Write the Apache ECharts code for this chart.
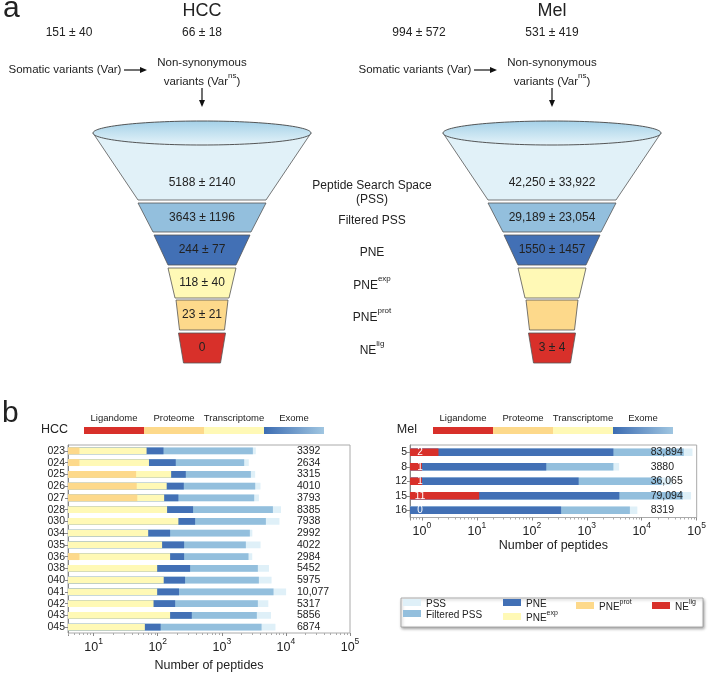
<!DOCTYPE html>
<html><head><meta charset="utf-8">
<script src="https://cdn.jsdelivr.net/npm/echarts@6/dist/echarts.min.js"></script>
<style>html,body{margin:0;padding:0;background:#fff}#c{width:709px;height:673px}</style>
</head><body><div id="c"></div>
<script>
const FONT = 'Liberation Sans, Arial, Helvetica, sans-serif';

// ---------- data ----------
const hccVar = ['151 ± 40', '66 ± 18'];
const melVar = ['994 ± 572', '531 ± 419'];
const hccFunnel = ['5188 ± 2140', '3643 ± 1196', '244 ± 77', '118 ± 40', '23 ± 21', '0'];
const melFunnel = ['42,250 ± 33,922', '29,189 ± 23,054', '1550 ± 1457', '', '', '3 ± 4'];
const stageBase = ['Peptide Search Space', 'Filtered PSS', 'PNE', 'PNE', 'PNE', 'NE'];
const stageSup = ['', '', '', 'exp', 'prot', 'lig'];
const omeLabels = ['Ligandome', 'Proteome', 'Transcriptome', 'Exome'];

const hccSamples = ['023','024','025','026','027','028','030','034','035','036','038','040','041','042','043','045'];
const hccPSS      = [3392,2634,3315,4010,3793,8385,7938,2992,4022,2984,5452,5975,10077,5317,5856,6874];
const hccFiltered = [3050,2234,2838,3318,3200,6270,4870,2738,2371,2610,3650,3785,6410,3650,3520,4170];
const hccPNE      = [123,191,274,255,210,356,383,156,258,258,320,267,215,187,340,111];
const hccExp      = [67,73,162,138,126,140,210,71,117,156,98,124,98,86,156,63];
const hccProt     = [6,6,46,47,48,0,0,0,0,6,0,0,0,0,0,0];

const melSamples  = ['5','8','12','15','16'];
const melPSS      = [83894,3880,36065,79094,8319];
const melFiltered = [58200,3050,23000,55900,6090];
const melPNE      = [3050,183,711,3910,341];
const melLig      = [2,1,1,11,0];

const xTickPowers = [0,1,2,3,4,5];

// ---------- styling ----------
const C = {
  pss: '#dff0f8', filt: '#93bfdd', pne: '#4270b5', exp: '#fff9b6', prot: '#fdd98b', lig: '#d8302a'
};
const segColors = ['#e1f1f8', C.filt, C.pne, C.exp, C.prot, C.lig];
const fmtTotal = v => v >= 10000 ? v.toLocaleString('en-US') : String(v);
const supRich = (fs, col) => ({
  b: {fontSize: fs, fontFamily: FONT, fill: col, color: col, lineHeight: fs + 5, verticalAlign: 'bottom'},
  s: {fontSize: Math.round(fs * 0.68), fontFamily: FONT, fill: col, color: col, lineHeight: Math.round(fs * 0.72), verticalAlign: 'top'}
});
const supText = (b, s) => s ? '{b|' + b + '}{s|' + s + '}' : '{b|' + b + '}';

// ---------- graphic (diagram part) ----------
const G = [];
function txt(x, y, text, fs, opts) {
  G.push(Object.assign({type: 'text', z: 10, style: Object.assign({
    x, y, text, fontSize: fs, fontFamily: FONT, fill: '#222', align: 'center', verticalAlign: 'middle'
  }, opts || {})}));
}
function rtxt(x, y, text, fs, align) {
  G.push({type: 'text', z: 10, style: {x, y, text, align: align || 'center', verticalAlign: 'middle', rich: supRich(fs, '#222'), fontFamily: FONT}});
}
function hArrow(x1, x2, y) {
  G.push({type: 'line', z: 10, shape: {x1, y1: y, x2: x2 - 5, y2: y}, style: {stroke: '#111', lineWidth: 1.2}});
  G.push({type: 'polygon', z: 10, shape: {points: [[x2, y], [x2 - 7, y - 3], [x2 - 7, y + 3]]}, style: {fill: '#111'}});
}
function vArrow(x, y1, y2) {
  G.push({type: 'line', z: 10, shape: {x1: x, y1, x2: x, y2: y2 - 5}, style: {stroke: '#111', lineWidth: 1.2}});
  G.push({type: 'polygon', z: 10, shape: {points: [[x, y2], [x - 3, y2 - 7], [x + 3, y2 - 7]]}, style: {fill: '#111'}});
}

txt(3, 9, 'a', 30, {align: 'left'});
txt(2, 414, 'b', 30, {align: 'left'});

const segs = [[133,200,109,64],[203,232,64,49],[235,265,48,34],[268,298,34,27],[300,330,26,22.5],[333,363,23.5,18.5]];
const segTextY = [183, 218, 250, 283, 315, 348];

function funnel(cx, title, vars, texts) {
  txt(cx, 11, title, 18);
  txt(cx - 133, 33, vars[0], 12);
  txt(cx, 33, vars[1], 12);
  txt(cx - 137, 70, 'Somatic variants (Var)', 11.5);
  hArrow(cx - 78, cx - 55, 70);
  txt(cx, 63, 'Non-synonymous', 11.5);
  rtxt(cx, 80, '{b|variants (Var}{s|ns}{b|)}', 11.5);
  vArrow(cx, 88, 107);
  segs.forEach((s, i) => {
    G.push({type: 'polygon', z: 5, shape: {points: [[cx - s[2], s[0]], [cx + s[2], s[0]], [cx + s[3], s[1]], [cx - s[3], s[1]]]},
      style: {fill: segColors[i], stroke: '#555', lineWidth: 0.8}});
    if (texts[i]) txt(cx, segTextY[i], texts[i], 12);
  });
  G.push({type: 'ellipse', z: 6, shape: {cx, cy: 133, rx: 109, ry: 12},
    style: {fill: new echarts.graphic.LinearGradient(0, 0, 0, 1, [{offset: 0, color: '#a3d0e7'}, {offset: 1, color: '#e6f4fa'}]), stroke: '#444', lineWidth: 0.9}});
}
funnel(202, 'HCC', hccVar, hccFunnel);
funnel(552, 'Mel', melVar, melFunnel);

// middle stage labels
stageBase.forEach((b, i) => rtxt(372, segTextY[i], supText(b, stageSup[i]), 12));
txt(372, 200, '(PSS)', 12);

// ome colour keys
function omeKey(x0, name) {
  txt(x0 - 16, 430, name, 12.5, {align: 'right'});
  const cols = [C.lig, C.prot, C.exp, null];
  omeLabels.forEach((l, i) => {
    const x = x0 + i * 60;
    G.push({type: 'rect', z: 5, shape: {x, y: 427, width: 60, height: 7},
      style: {fill: cols[i] || new echarts.graphic.LinearGradient(0, 0, 1, 0, [{offset: 0, color: '#3c6cb2'}, {offset: 1, color: '#a0c6e1'}])}});
    txt(x + 30, 418, l, 9.5);
  });
}
omeKey(84, 'HCC');
omeKey(433, 'Mel');

// legend frame
G.push({type: 'rect', z: 1, shape: {x: 401, y: 598, width: 302, height: 29},
  style: {fill: '#fff', stroke: '#999', lineWidth: 0.8, shadowBlur: 3, shadowOffsetX: 1, shadowOffsetY: 1.5, shadowColor: 'rgba(0,0,0,0.35)'}});

// ---------- bar series (custom, drawn through the log axes) ----------
const HCC_MIN = Math.pow(10, 0.6);
const MEL_MIN = Math.pow(10, -0.217);
function barSeries(name, values, color, xi, yi, base, ratio, withLabel) {
  return {
    type: 'custom', name, xAxisIndex: xi, yAxisIndex: yi, z: 2,
    itemStyle: {color}, encode: {x: 0, y: 1},
    data: values.map((v, i) => [v, i]),
    renderItem(params, api) {
      const v = api.value(0), idx = api.value(1);
      const h = api.size([0, 1])[1] * ratio;
      const p0 = api.coord([base, idx]);
      const children = [];
      if (v > 0) {
        const p1 = api.coord([v, idx]);
        children.push({type: 'rect', shape: {x: p0[0], y: p0[1] - h / 2, width: p1[0] - p0[0], height: h}, style: {fill: color}});
      }
      if (withLabel) children.push({type: 'text', style: {text: String(v), x: p0[0] + 10, y: p0[1], align: 'center', verticalAlign: 'middle', fill: '#fff', fontSize: 10, fontFamily: FONT}});
      return {type: 'group', children};
    }
  };
}

const N = {pss: 'PSS', filt: 'Filtered PSS', pne: 'PNE', exp: 'PNEexp', prot: 'PNEprot', lig: 'NElig'};
const legendFmt = {PSS: '{b|PSS}', 'Filtered PSS': '{b|Filtered PSS}', PNE: '{b|PNE}', PNEexp: '{b|PNE}{s|exp}', PNEprot: '{b|PNE}{s|prot}', NElig: '{b|NE}{s|lig}'};

function xAxis(gi, min, gap) {
  return {
    type: 'log', logBase: 10, gridIndex: gi, min, max: 1e5,
    name: 'Number of peptides', nameLocation: 'middle', nameGap: gap,
    nameTextStyle: {fontSize: 12.5, fontFamily: FONT, color: '#222'},
    axisLine: {lineStyle: {color: '#888'}},
    axisTick: {show: true, length: 3, lineStyle: {color: '#888'}},
    minorTick: {show: true, splitNumber: 9, length: 2, lineStyle: {color: '#aaa'}},
    splitLine: {show: false}, minorSplitLine: {show: false},
    axisLabel: {
      margin: 4, showMinLabel: false,
      formatter: v => {
        const e = Math.log10(v); const r = Math.round(e);
        if (Math.abs(e - r) > 1e-6 || xTickPowers.indexOf(r) < 0) return '';
        return '{b|10}{s|' + r + '}';
      },
      rich: {
        b: {fontSize: 12.5, fontFamily: FONT, color: '#222', lineHeight: 17, verticalAlign: 'bottom'},
        s: {fontSize: 8.5, fontFamily: FONT, color: '#222', lineHeight: 9, verticalAlign: 'top'}
      }
    }
  };
}
function catAxis(gi, data, right, margin) {
  const a = {type: 'category', gridIndex: gi, data, inverse: true, z: right ? 6 : 0,
    axisLabel: {interval: 0, fontSize: 10.5, fontFamily: FONT, color: '#222', margin: right ? margin : 3},
    axisTick: {show: !right, interval: 0, length: 3, alignWithLabel: true, lineStyle: {color: '#888'}},
    axisLine: {show: !right, lineStyle: {color: '#888'}}};
  if (right) { a.position = 'right'; a.axisLabel.inside = true; a.axisLabel.align = 'left'; }
  return a;
}

const option = {
  animation: false,
  backgroundColor: '#fff',
  textStyle: {fontFamily: FONT},
  grid: [
    {left: 68, top: 445, width: 282, height: 194, show: true, borderColor: '#aaa', borderWidth: 1, backgroundColor: 'transparent'},
    {left: 410, top: 445, width: 289, height: 72.5, show: true, borderColor: '#aaa', borderWidth: 1, backgroundColor: 'transparent'}
  ],
  xAxis: [xAxis(0, HCC_MIN, 26), xAxis(1, MEL_MIN, 22)],
  yAxis: [
    catAxis(0, hccSamples, false),
    catAxis(0, hccPSS.map(fmtTotal), true, 53),
    catAxis(1, melSamples, false),
    catAxis(1, melPSS.map(fmtTotal), true, 46)
  ],
  legend: [
    {data: [N.pss, N.filt], left: 403},
    {data: [N.pne, N.exp], left: 503},
    {data: [N.prot], left: 576},
    {data: [N.lig], left: 652}
  ].map(l => Object.assign(l, {
    top: 599, orient: 'vertical', itemWidth: 18, itemHeight: 7, itemGap: 1, icon: 'rect', padding: 0,
    formatter: n => legendFmt[n],
    textStyle: {rich: {
      b: {fontSize: 10, fontFamily: FONT, color: '#222', lineHeight: 13, verticalAlign: 'bottom'},
      s: {fontSize: 7, fontFamily: FONT, color: '#222', lineHeight: 8, verticalAlign: 'top'}
    }}
  })),
  graphic: G,
  series: [
    barSeries(N.pss, hccPSS, C.pss, 0, 0, HCC_MIN, 0.58),
    barSeries(N.filt, hccFiltered, C.filt, 0, 0, HCC_MIN, 0.58),
    barSeries(N.pne, hccPNE, C.pne, 0, 0, HCC_MIN, 0.58),
    barSeries(N.exp, hccExp, C.exp, 0, 0, HCC_MIN, 0.58),
    barSeries(N.prot, hccProt, C.prot, 0, 0, HCC_MIN, 0.58),
    barSeries(N.pss, melPSS, C.pss, 1, 2, MEL_MIN, 0.52),
    barSeries(N.filt, melFiltered, C.filt, 1, 2, MEL_MIN, 0.52),
    barSeries(N.pne, melPNE, C.pne, 1, 2, MEL_MIN, 0.52),
    barSeries(N.lig, melLig, C.lig, 1, 2, MEL_MIN, 0.52, true)
  ]
};
const chart = echarts.init(document.getElementById('c'));
chart.setOption(option);
</script>
</body></html>
